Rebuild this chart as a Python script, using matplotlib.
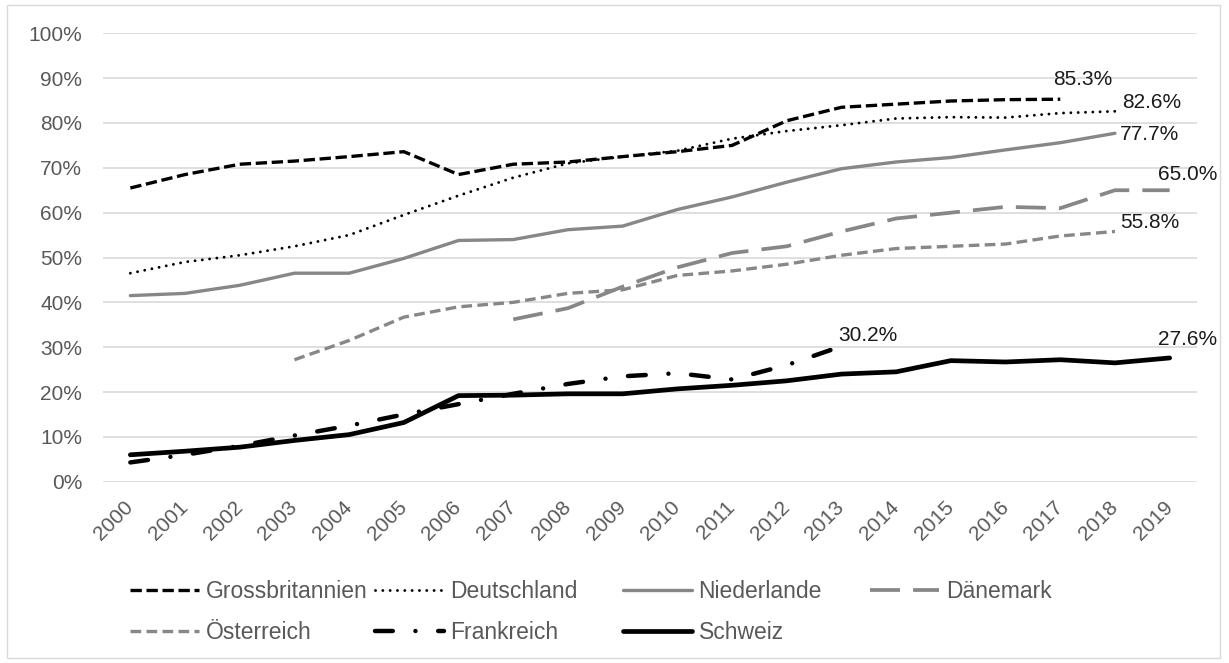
import matplotlib.pyplot as plt
import matplotlib.patches as mpatches
import numpy as np

plt.rcParams['font.family'] = ['Liberation Sans', 'DejaVu Sans']

years = list(range(2000, 2020))

# values in %, None where no data
gb = [65.5, 68.5, 70.8, 71.5, 72.5, 73.6, 68.5, 70.8, 71.3, 72.5,
      73.6, 75.0, 80.5, 83.5, 84.2, 84.9, 85.2, 85.3, None, None]
de = [46.5, 49.0, 50.5, 52.5, 55.0, 59.5, 63.8, 67.8, 71.0, 72.5,
      73.8, 76.5, 78.2, 79.5, 81.0, 81.3, 81.2, 82.2, 82.6, None]
nl = [41.5, 42.0, 43.8, 46.5, 46.5, 49.8, 53.8, 54.0, 56.2, 57.0,
      60.7, 63.5, 66.8, 69.8, 71.3, 72.3, 74.0, 75.6, 77.7, None]
dk = [None, None, None, None, None, None, None, 36.2, 38.7, 43.5,
      47.8, 51.0, 52.5, 55.8, 58.7, 60.0, 61.3, 61.0, 65.0, 65.0]
at = [None, None, None, 27.2, 31.5, 36.7, 39.0, 40.0, 42.0, 42.8,
      46.0, 47.0, 48.5, 50.5, 52.0, 52.5, 53.0, 54.8, 55.8, None]
fr = [4.3, 6.0, 8.0, 10.3, 12.5, 15.0, 17.3, 19.6, 21.8, 23.5,
      24.2, 22.8, 26.0, 30.2, None, None, None, None, None, None]
ch = [6.0, 6.8, 7.7, 9.2, 10.5, 13.2, 19.2, 19.3, 19.6, 19.6,
      20.7, 21.5, 22.5, 24.0, 24.5, 27.0, 26.7, 27.2, 26.5, 27.6]

names = ['Grossbritannien', 'Deutschland', 'Niederlande', 'Dänemark',
         'Österreich', 'Frankreich', 'Schweiz']

BLACK = '#000000'
GRAY = '#878787'
TXT = '#595959'


def arr(v):
    return np.array([np.nan if x is None else x / 100 for x in v])


fig = plt.figure(figsize=(12.29, 6.63), dpi=100)
ax = fig.add_axes([103 / 1229, 1 - 481.7 / 663, (1197 - 103) / 1229, (481.7 - 33.3) / 663])

x = np.arange(len(years))
styles = {
    'Grossbritannien': dict(data=gb, color=BLACK, lw=2.4, ls=(0, (3.4, 1.4))),
    'Deutschland': dict(data=de, color=BLACK, lw=2.1, ls=(0, (0.01, 2.5)), cap='round'),
    'Niederlande': dict(data=nl, color=GRAY, lw=2.4, ls='-'),
    'Dänemark': dict(data=dk, color=GRAY, lw=2.7, ls=(0, (8, 3.5))),
    'Österreich': dict(data=at, color=GRAY, lw=2.4, ls=(0, (3.2, 1.6))),
    'Frankreich': dict(data=fr, color=BLACK, lw=3.2, ls=(0, (4.0, 5.1, 0.01, 5.1)), cap='round'),
    'Schweiz': dict(data=ch, color=BLACK, lw=3.4, ls='-'),
}

handles = {}
for n in names:
    s = styles[n]
    ln, = ax.plot(x, arr(s['data']), color=s['color'], lw=s['lw'], linestyle=s['ls'],
                  label=n, solid_capstyle='round', dash_capstyle=s.get('cap', 'butt'))
    handles[n] = ln

ax.set_xlim(-0.5, len(years) - 0.5)
ax.set_ylim(0, 1.0)
ax.set_yticks(np.arange(0, 1.01, 0.1))
ax.set_yticklabels([f'{int(round(v * 100))}%' for v in np.arange(0, 1.01, 0.1)])
ax.set_xticks(x)
ax.set_xticklabels([str(y) for y in years], rotation=45, ha='right', va='center',
                   rotation_mode='anchor')
ax.tick_params(axis='both', length=0, colors=TXT, labelsize=15)
ax.tick_params(axis='x', pad=16)
ax.tick_params(axis='y', pad=15)
ax.grid(axis='y', color='#d9d9d9', lw=1.2)
ax.set_axisbelow(True)
for sp in ax.spines.values():
    sp.set_visible(False)

# end labels (offsets in pixels, from the line end)
lab_col = '#1a1a1a'
end_labels = [('85.3%', 17, gb[17], -7, 20), ('82.6%', 18, de[18], 7, 9),
              ('77.7%', 18, nl[18], 5, -1), ('65.0%', 19, dk[19], -12, 16),
              ('55.8%', 18, at[18], 5, 9), ('30.2%', 13, fr[13], -3, 11),
              ('27.6%', 19, ch[19], -12, 18)]
for txt, xi, v, dx, dy in end_labels:
    ax.annotate(txt, (xi, v / 100), xytext=(dx, dy), textcoords='offset pixels',
                ha='left', va='center', fontsize=15, color=lab_col)

# legend: Excel-like equal column widths, one legend per column
columns = [['Grossbritannien', 'Österreich'], ['Deutschland', 'Frankreich'],
           ['Niederlande', 'Schweiz'], ['Dänemark']]
col_x = [130, 375, 623, 870]
for cols, cx in zip(columns, col_x):
    leg = fig.legend([handles[n] for n in cols], cols, loc='upper left',
                     bbox_to_anchor=(cx / 1229, 1 - 580 / 663), frameon=False,
                     fontsize=16.5, handlelength=3.0, handletextpad=0.3,
                     labelspacing=0.78, borderaxespad=0, borderpad=0)
    for t in leg.get_texts():
        t.set_color(TXT)

fig.patches.append(mpatches.Rectangle((7 / 1229, 5 / 663), 1213 / 1229, 653 / 663,
                                      transform=fig.transFigure, fill=False,
                                      edgecolor='#d9d9d9', lw=1))

fig.savefig('out.png', dpi=100, facecolor='white')
